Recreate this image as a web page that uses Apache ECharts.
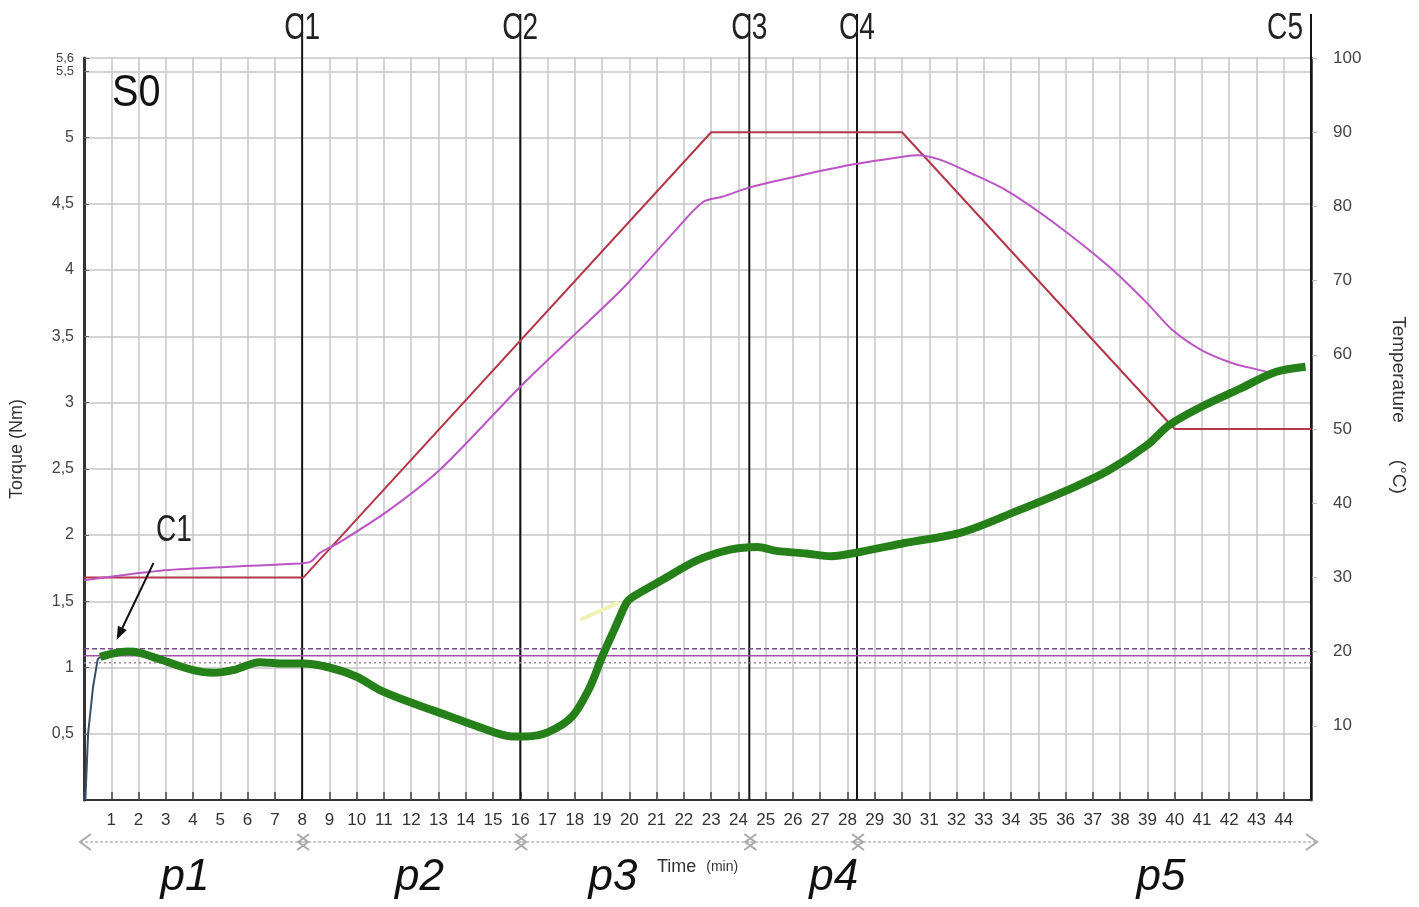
<!DOCTYPE html>
<html><head><meta charset="utf-8">
<script src="https://cdn.jsdelivr.net/npm/echarts@6/dist/echarts.min.js"></script>
<style>html,body{margin:0;padding:0;background:#fff}#c{width:1419px;height:907px}</style>
</head><body><div id="c"></div>
<script>
// ---- data ----
const setpointTemp = [[0,30],[8.05,30],[23,90],[30,90],[40,50],[45,50]];
const measuredTemp = [[0,29.6],[2.8,30.9],[5.2,31.4],[7.55,31.8],[8.3,32.1],[8.65,33.3],[9.4,34.8],[11.2,39.1],[13.05,44.5],[16.0,55.7],[17.9,62.4],[19.8,69.1],[21.6,76.4],[22.7,80.6],[23.4,81.3],[24.46,82.6],[26.07,84.0],[28.13,85.6],[30.03,86.7],[30.58,86.9],[31.39,86.3],[32.45,84.6],[33.81,82.2],[35.57,77.8],[37.62,71.8],[38.98,67.0],[39.93,63.3],[41.0,60.6],[42.1,58.9],[43.05,58.0],[43.4,57.7]];
const torque = [[0.59,1.08],[0.95,1.10],[1.58,1.12],[2.05,1.11],[2.8,1.06],[4.0,0.98],[4.73,0.96],[5.46,0.98],[6.45,1.04],[7.19,1.03],[8.03,1.03],[9.0,1.0],[10.0,0.93],[10.85,0.83],[12.06,0.73],[13.3,0.64],[14.5,0.55],[15.7,0.48],[16.2,0.48],[17.0,0.51],[17.9,0.63],[18.55,0.85],[19.0,1.08],[19.5,1.31],[19.9,1.49],[20.1,1.53],[21.2,1.66],[22.5,1.81],[23.7,1.89],[24.7,1.91],[25.4,1.88],[26.5,1.86],[27.4,1.84],[28.4,1.87],[30.1,1.94],[32.2,2.02],[34.2,2.18],[36.3,2.36],[37.6,2.49],[39.0,2.68],[39.8,2.83],[41.0,2.97],[42.35,3.10],[43.7,3.23],[44.8,3.27]];
const startupTorque = [[0.05,0],[0.15,0.5],[0.33,0.85],[0.5,1.06],[0.6,1.08]];
const tangentSegment = [[18.2,1.36],[19.6,1.49]];
const refLevels = [1.141, 1.088, 1.035];
const torqueTicks = [0.5,1,1.5,2,2.5,3,3.5,4,4.5,5,5.5,5.6];
const tempTicks = [10,20,30,40,50,60,70,80,90,100];
const cTimes = [8,16,24.4,28.35,45];
const cNames = ['C1','C2','C3','C4','C5'];
const phaseStart = [0,8,16,24.4,28.35];
const phaseEnd = [8,16,24.4,28.35,45];
const phaseNames = ['p1','p2','p3','p4','p5'];
const phaseLabelTime = [3.7,12.3,19.4,27.5,39.5];
const c1Tip = [1.2,1.21];
const c1Tail = [2.55,1.79];
const c1Label = [3.3,2.03];

// ---- chart ----
const chart = echarts.init(document.getElementById('c'), null, {renderer:'canvas'});
const gridColor = '#c6c6c6';
const labelFont = '36px "Liberation Sans"';
const refStyles = [
  {color:'#7b4a8c', type:[5,3], width:1.5},
  {color:'#a64fac', type:'solid', width:1.5},
  {color:'#a482a4', type:[2,3], width:1.5}
];

const series = [];
// C lines + labels
series.push({
  type:'custom', z:3, silent:true, clip:false,
  data: cTimes.map(t => [t, 0]),
  renderItem(params, api){
    const i = params.dataIndex;
    const b = api.coord([api.value(0), 0]);
    const t = api.coord([api.value(0), 5.6]);
    const last = i === cNames.length - 1;
    return {type:'group', children:[
      {type:'line', shape:{x1:b[0], y1:b[1], x2:b[0], y2:t[1]-44}, style:{stroke:'#151515', lineWidth:2}},
      {type:'text', x: last ? b[0]-8 : b[0], y: t[1]-29, scaleX:0.78,
       style:{text:cNames[i], font:labelFont, fill:'#222', align: last?'right':'center', verticalAlign:'middle'}}
    ]};
  }
});
// reference levels
refLevels.forEach((v,i) => {
  series.push({type:'line', silent:true, symbol:'none', z:4,
    data:[[0,v],[45,v]], lineStyle:refStyles[i]});
});
// setpoint temp
series.push({type:'line', yAxisIndex:1, symbol:'none', z:5, silent:true,
  data:setpointTemp, lineStyle:{color:'#b3374a', width:2}});
// measured temp
series.push({type:'line', yAxisIndex:1, symbol:'none', z:6, silent:true, smooth:0.3,
  data:measuredTemp, lineStyle:{color:'#bb55c4', width:2}});
// tangent
series.push({type:'line', symbol:'none', z:6, silent:true,
  data:tangentSegment, lineStyle:{color:'#f2f2b4', width:4}});
// startup
series.push({type:'line', symbol:'none', z:7, silent:true,
  data:startupTorque, lineStyle:{color:'#34506a', width:2}});
// torque
series.push({type:'line', symbol:'none', z:8, silent:true, smooth:0.3,
  data:torque, lineStyle:{color:'#268019', width:8}});
// phase arrows and labels
series.push({
  type:'custom', z:9, silent:true, clip:false,
  data: phaseStart.map((s,i) => [s, phaseEnd[i]]),
  renderItem(params, api){
    const i = params.dataIndex;
    const a = api.coord([api.value(0), 0]);
    const b = api.coord([api.value(1), 0]);
    const lx = api.coord([phaseLabelTime[i], 0])[0];
    const y = a[1] + 42;
    const x1 = a[0] - 4, x2 = b[0] + 6;
    return {type:'group', children:[
      {type:'line', shape:{x1:x1, y1:y, x2:x2, y2:y}, style:{stroke:'#b8b8b8', lineWidth:1.5, lineDash:[3,2]}},
      {type:'polyline', shape:{points:[[x1+11,y-8],[x1,y],[x1+11,y+8]]}, style:{stroke:'#aaaaaa', lineWidth:2, fill:null}},
      {type:'polyline', shape:{points:[[x2-11,y-8],[x2,y],[x2-11,y+8]]}, style:{stroke:'#aaaaaa', lineWidth:2, fill:null}},
      {type:'text', x:lx, y:a[1]+78, style:{text:phaseNames[i], font:'italic 44px "Liberation Sans"', fill:'#111', align:'center', verticalAlign:'middle'}}
    ]};
  }
});
// C1 annotation
series.push({
  type:'custom', z:10, silent:true, clip:false,
  data:[[c1Tip[0], c1Tip[1]]],
  renderItem(params, api){
    const tip = api.coord(c1Tip), tail = api.coord(c1Tail), lab = api.coord(c1Label);
    const ang = Math.atan2(tip[1]-tail[1], tip[0]-tail[0]);
    const L = 13, W = 5;
    const bx = tip[0] - L*Math.cos(ang), by = tip[1] - L*Math.sin(ang);
    const px = -Math.sin(ang)*W, py = Math.cos(ang)*W;
    return {type:'group', children:[
      {type:'line', shape:{x1:tail[0], y1:tail[1], x2:bx, y2:by}, style:{stroke:'#111', lineWidth:2}},
      {type:'polygon', shape:{points:[[tip[0],tip[1]],[bx+px,by+py],[bx-px,by-py]]}, style:{fill:'#111'}},
      {type:'text', x:lab[0], y:lab[1], scaleX:0.78, style:{text:'C1', font:labelFont, fill:'#222', align:'center', verticalAlign:'middle'}}
    ]};
  }
});

const option = {
  animation:false,
  backgroundColor:'#fff',
  graphic:[
    {type:'text', x:112, y:94, scaleX:0.9, silent:true,
     style:{text:'S0', font:'44px "Liberation Sans"', fill:'#111', verticalAlign:'middle'}}
  ],
  grid:{left:84, right:108, top:58, bottom:107},
  xAxis:{
    type:'value', min:0, max:45, interval:1,
    name:'{a|Time}   {b|(min)}', nameLocation:'middle', nameGap:58,
    nameTextStyle:{rich:{a:{fontSize:18, color:'#333', fontFamily:'Liberation Sans'}, b:{fontSize:14, color:'#333', fontFamily:'Liberation Sans'}}},
    axisLine:{lineStyle:{color:'#333', width:2}},
    axisTick:{inside:true, length:8, lineStyle:{color:'#444', width:1.5}},
    axisLabel:{margin:12, fontSize:17, color:'#333', fontFamily:'Liberation Sans',
      formatter: v => (v>=1 && v<=44) ? String(v) : ''},
    splitLine:{show:true, lineStyle:{color:gridColor, width:1.5}}
  },
  yAxis:[
    {type:'value', min:0, max:5.6, position:'left',
     name:'Torque (Nm)', nameLocation:'middle', nameGap:58,
     nameTextStyle:{fontSize:18, color:'#333', fontFamily:'Liberation Sans', padding:[0,40,0,0]},
     axisLine:{show:true, lineStyle:{color:'#333', width:3}},
     axisTick:{show:true, inside:true, length:5, customValues:torqueTicks, lineStyle:{color:'#666'}},
     axisLabel:{customValues:torqueTicks,
       margin:10, fontSize:16, color:'#444', fontFamily:'Liberation Sans',
       formatter: v => v > 5.2 ? '{s|' + String(v).replace('.', ',') + '}' : String(v).replace('.', ','),
       rich:{s:{fontSize:13, color:'#444', fontFamily:'Liberation Sans'}}},
     splitLine:{show:true, lineStyle:{color:gridColor, width:1.5}}},
    {type:'value', min:0, max:100, position:'right',
     name:'Temperature       (°C)', nameLocation:'middle', nameGap:78, nameRotate:-90,
     nameTextStyle:{fontSize:19, color:'#333', fontFamily:'Liberation Sans', padding:[0,48,0,0]},
     axisLine:{show:true, lineStyle:{color:'#555', width:3}},
     axisTick:{show:true, length:6, customValues:tempTicks, lineStyle:{color:'#bbb'}},
     axisLabel:{customValues:tempTicks, margin:22, fontSize:17, color:'#444', fontFamily:'Liberation Sans'},
     splitLine:{show:false}}
  ],
  series: series
};
chart.setOption(option);
</script></body></html>
